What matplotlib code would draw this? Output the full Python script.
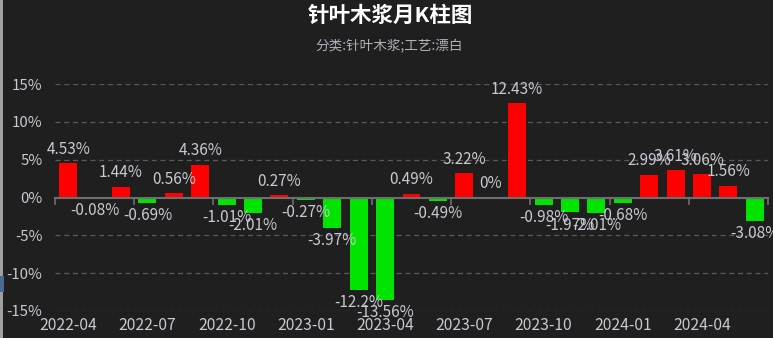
import matplotlib
matplotlib.use("Agg")
import matplotlib.pyplot as plt
import matplotlib.transforms as mtransforms
from matplotlib.patches import Rectangle

plt.rcParams['font.family'] = ['Noto Sans CJK SC', 'DejaVu Sans']

months = ["2022-04", "2022-05", "2022-06", "2022-07", "2022-08", "2022-09",
          "2022-10", "2022-11", "2022-12", "2023-01", "2023-02", "2023-03",
          "2023-04", "2023-05", "2023-06", "2023-07", "2023-08", "2023-09",
          "2023-10", "2023-11", "2023-12", "2024-01", "2024-02", "2024-03",
          "2024-04", "2024-05", "2024-06"]
values = [4.53, -0.08, 1.44, -0.69, 0.56, 4.36,
          -1.01, -2.01, 0.27, -0.27, -3.97, -12.2,
          -13.56, 0.49, -0.49, 3.22, 0, 12.43,
          -0.98, -1.97, -2.01, -0.68, 2.99, 3.61,
          3.06, 1.56, -3.08]
y_ticks = [-15, -10, -5, 0, 5, 10, 15]
title = "针叶木浆月K柱图"
subtitle = "分类:针叶木浆;工艺:漂白"

bg = "#1f1f1f"
txt = "#c9c9d1"

fig = plt.figure(figsize=(7.73, 3.38), dpi=100, facecolor=bg)
ax = fig.add_axes([55/773, 1-311/338, (768-55)/773, (311-84)/338])
ax.set_facecolor(bg)

n = len(values)
xs = list(range(n))
colors = ["#ff0000" if v >= 0 else "#00e400" for v in values]
ax.bar(xs, values, width=0.68, color=colors, zorder=3)

ax.set_xlim(-0.5, n - 0.5)
ax.set_ylim(-15, 15)

# grid
for t in y_ticks:
    if t != 0:
        ax.axhline(t, color="#5a5a5a", lw=0.9, ls=(0, (4, 3)), zorder=1)

ax.set_yticks(y_ticks)
ax.set_yticklabels([f"{t}%" for t in y_ticks], color=txt, fontsize=10.8)
ax.tick_params(axis='y', length=0, pad=9)

for s in ["top", "right", "left"]:
    ax.spines[s].set_visible(False)
ax.spines["bottom"].set_position(("data", 0))
ax.spines["bottom"].set_color("#6e6e6e")
ax.spines["bottom"].set_linewidth(1.5)
ax.spines["bottom"].set_zorder(4)

bounds = [i - 0.5 for i in range(0, n + 1, 3)]
ax.set_xticks(bounds)
ax.set_xticklabels([""] * len(bounds))
ax.tick_params(axis='x', length=5, width=1.2, color="#6e6e6e", direction="out")

trans = mtransforms.blended_transform_factory(ax.transData, ax.transAxes)
for i in range(0, n, 3):
    ax.text(i, -0.062, months[i], transform=trans, ha="center", va="center",
            color=txt, fontsize=11.3)

for x, v in zip(xs, values):
    lab = f"{v:g}%"
    if v >= 0:
        ax.annotate(lab, (x, v), xytext=(0, 4), textcoords="offset points",
                    ha="center", va="bottom", color=txt, fontsize=11, zorder=5)
    else:
        ax.annotate(lab, (x, v), xytext=(0, -3), textcoords="offset points",
                    ha="center", va="top", color=txt, fontsize=11, zorder=5)

fig.text(390/773, 1-15/338, title, ha="center", va="center", color="white",
         fontsize=15.5, fontweight="bold")
fig.text(389/773, 1-46/338, subtitle, ha="center", va="center", color="#b0b0b8",
         fontsize=9.8)

# left edge strip
fig.patches.append(Rectangle((0, 0), 3/773, 1, transform=fig.transFigure,
                             facecolor="#a0a0a0", edgecolor="none"))
fig.patches.append(Rectangle((0, 1-292/338), 4/773, 16/338, transform=fig.transFigure,
                             facecolor="#4a6a90", edgecolor="none"))

fig.savefig("out.png", dpi=100, facecolor=bg)
